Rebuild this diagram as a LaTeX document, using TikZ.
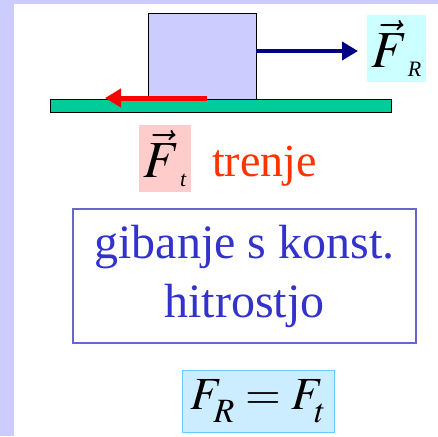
\documentclass[tikz,border=0pt]{standalone}
\usepackage{mathptmx}
\usepackage{fontspec}
\setmainfont{Liberation Serif}
\usetikzlibrary{arrows.meta, positioning}

\definecolor{lavender}{HTML}{CCCCFF}
\definecolor{groundgreen}{HTML}{00CC99}
\definecolor{navyarrow}{HTML}{000080}
\definecolor{frcyan}{HTML}{CCFFFF}
\definecolor{ftpink}{HTML}{FFCCCC}
\definecolor{trenjered}{HTML}{FF3300}
\definecolor{textblue}{HTML}{3333CC}
\definecolor{boxblue}{HTML}{6666CC}
\definecolor{eqfill}{HTML}{CCECFF}
\definecolor{eqborder}{HTML}{66CCFF}

% small, low subscript for the force labels
\newcommand{\lowsub}[2]{\hbox{\kern#2\raisebox{-9pt}{\fontsize{22}{22}\selectfont\itshape #1}}}

\begin{document}
\begin{tikzpicture}[
    x=1pt, y=-1pt,
    every node/.style={inner sep=0pt, outer sep=0pt},
    solid_block/.style={draw=black, line width=1pt, fill=lavender,
            minimum width=108pt, minimum height=85pt},
    ground_bar/.style={draw=black, line width=1pt, fill=groundgreen,
            minimum width=341pt, minimum height=13pt},
    label_box/.style={minimum width=55pt, minimum height=67pt,
            font=\fontsize{52}{56}\selectfont},
    force_arrow/.style={line width=4.5pt, -{Triangle[length=16pt, width=18pt]}},
    motion_box/.style={draw=boxblue, line width=1.5pt, fill=white,
            minimum width=343pt, minimum height=134pt, align=center,
            text=textblue, font=\fontsize{48}{59}\selectfont},
    eq_box/.style={draw=eqborder, line width=1pt, fill=eqfill,
            minimum width=152pt, minimum height=62pt,
            font=\fontsize{46}{50}\selectfont},
    ]

    % --- Background ---
    \fill[lavender] (0,0) rectangle (438,436);
    \fill[white] (14,4) rectangle (438,436);
    \useasboundingbox (0,0) rectangle (438,436);

    % --- Block on the ground ---
    \node (ground) [ground_bar] at (220.5,105.5) {};
    \node (block) [solid_block] at (202,56.5) {};

    % --- Force labels ---
    \node (fr_label) [label_box, fill=frcyan, minimum width=59pt] at (396.5,48.5) {$\vec{F}\lowsub{R}{0pt}$};
    \node (ft_label) [label_box, fill=ftpink, minimum width=52pt] at (165,158.5) {$\vec{F}\lowsub{t}{0pt}$};
    \node (trenje) [text=trenjered, font=\fontsize{46}{50}\selectfont,
        anchor=base west] at (212,176) {trenje};

    % --- Text boxes ---
    \node (motion) [motion_box] at (244.5,276) {gibanje s konst.\\hitrostjo};
    \node (equation) [eq_box] at (258,401)
        {$F_{\raisebox{-6pt}{$\scriptstyle R$}} = F_{\raisebox{-6pt}{$\scriptstyle t$}}$};

    % --- Arrows ---
    \coordinate (fr_tip) at (358,51);
    \coordinate (ft_start) at (207,98);
    \coordinate (ft_tip) at (105,98);
    \draw[force_arrow, navyarrow] (block.east |- fr_tip) -- (fr_tip);
    \draw[force_arrow, red, line width=5pt] (ft_start) -- (ft_tip);

\end{tikzpicture}
\end{document}
